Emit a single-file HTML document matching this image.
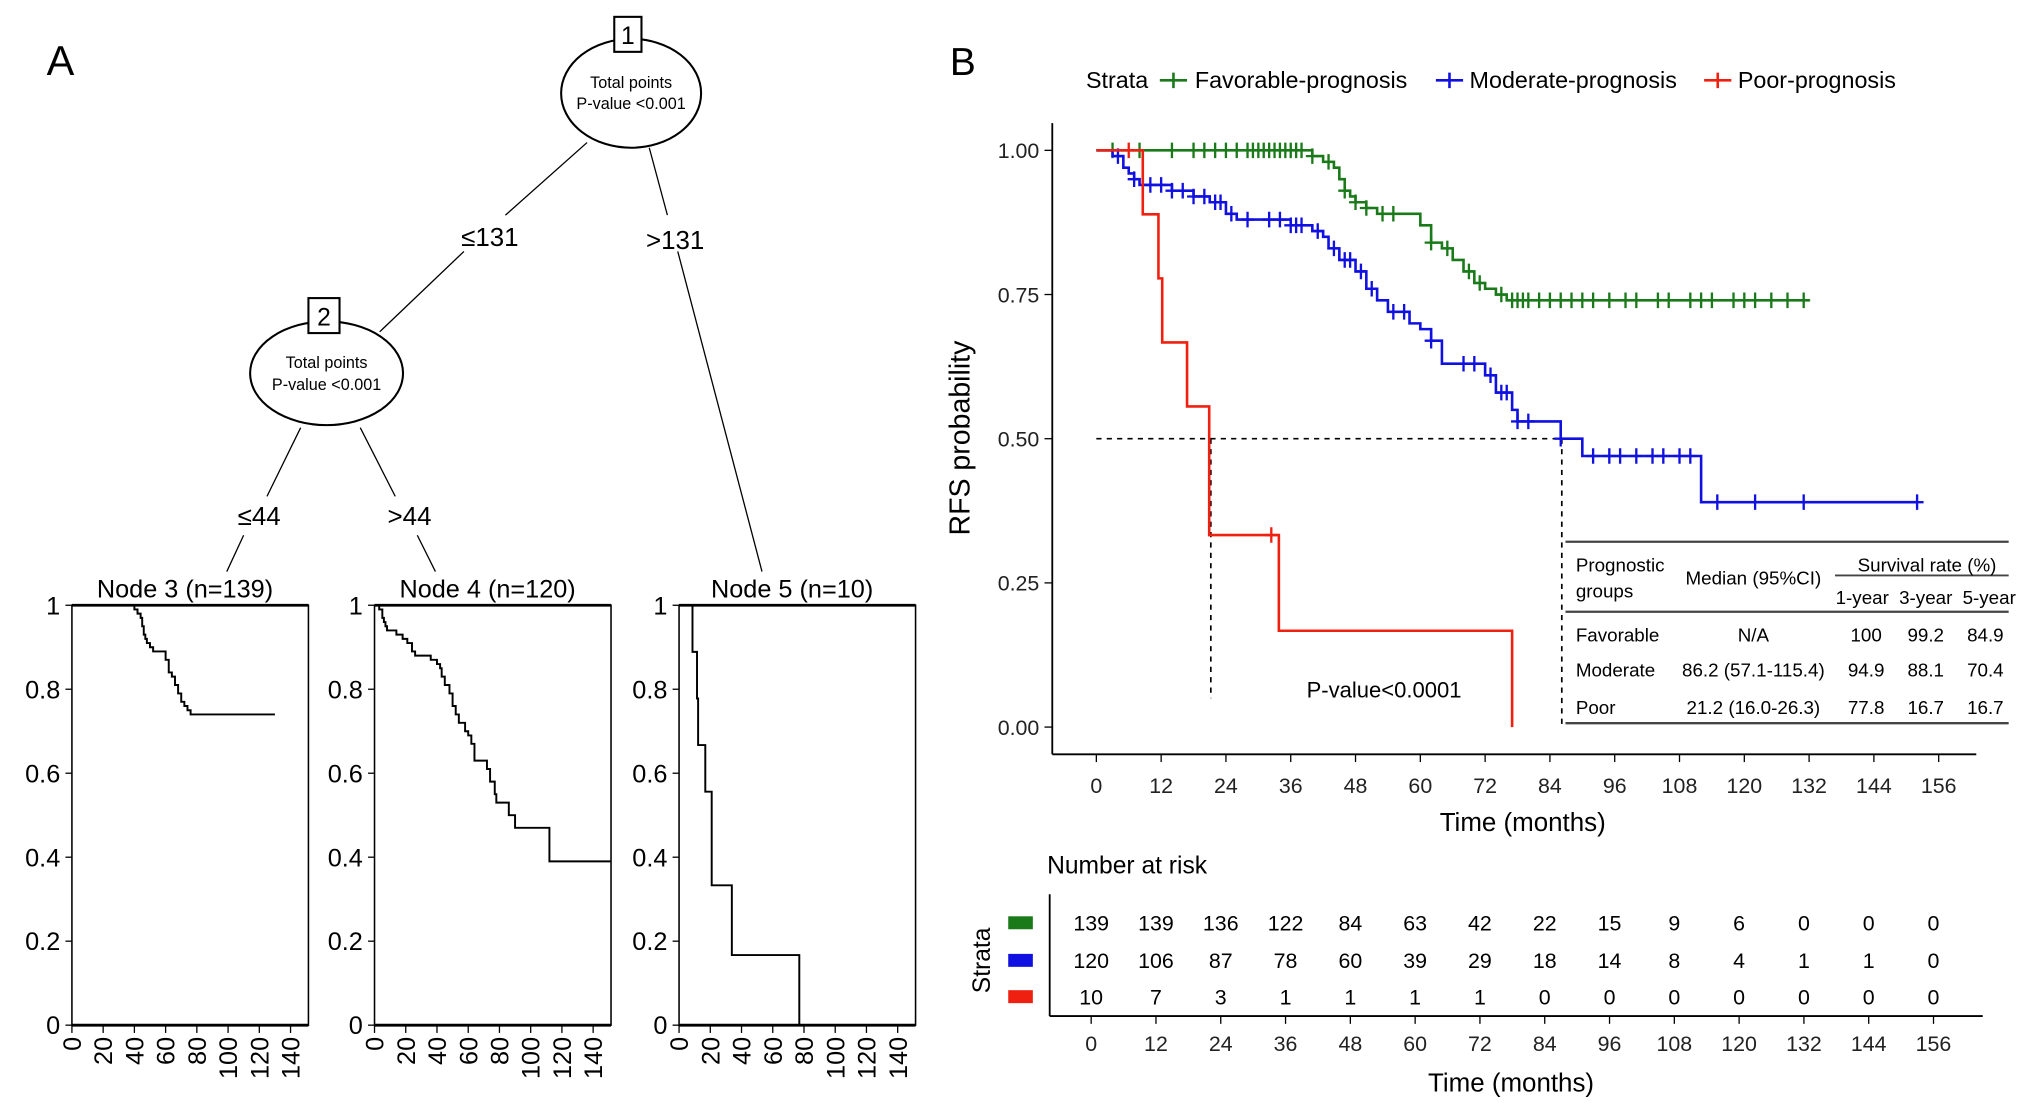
<!DOCTYPE html>
<html><head><meta charset="utf-8"><style>
html,body{margin:0;padding:0;background:#fff;}
svg{display:block;font-family:"Liberation Sans",Arial,sans-serif;}
</style></head><body>
<svg id="fig" width="2032" height="1112" viewBox="0 0 1568 858" preserveAspectRatio="none" xmlns="http://www.w3.org/2000/svg">
<g id="treeG">
<text x="36" y="58" font-size="32">A</text>
<ellipse cx="487" cy="72" rx="54" ry="42" fill="#fff" stroke="#000" stroke-width="1.6"/>
<rect x="474" y="13" width="21" height="27" fill="#fff" stroke="#000" stroke-width="1.6"/>
<text x="484.5" y="34" font-size="19" text-anchor="middle">1</text>
<text x="487" y="68" font-size="12.5" text-anchor="middle">Total points</text>
<text x="487" y="84" font-size="12.5" text-anchor="middle">P-value &lt;0.001</text>
<line x1="453" y1="110" x2="390" y2="166" stroke="#000"/>
<line x1="358" y1="194" x2="293" y2="256" stroke="#000"/>
<text x="378" y="190" font-size="20" text-anchor="middle">≤131</text>
<line x1="501" y1="114" x2="515" y2="166" stroke="#000"/>
<line x1="523" y1="194" x2="588" y2="441" stroke="#000"/>
<text x="521" y="192" font-size="20" text-anchor="middle">&gt;131</text>
<ellipse cx="252" cy="288" rx="59" ry="40" fill="#fff" stroke="#000" stroke-width="1.6"/>
<rect x="238" y="230" width="24" height="27" fill="#fff" stroke="#000" stroke-width="1.6"/>
<text x="250" y="251" font-size="19" text-anchor="middle">2</text>
<text x="252" y="284" font-size="12.5" text-anchor="middle">Total points</text>
<text x="252" y="301" font-size="12.5" text-anchor="middle">P-value &lt;0.001</text>
<line x1="232" y1="330" x2="206" y2="383" stroke="#000"/>
<line x1="188" y1="413" x2="175" y2="441" stroke="#000"/>
<text x="200" y="405" font-size="20" text-anchor="middle">≤44</text>
<line x1="278" y1="330" x2="305" y2="383" stroke="#000"/>
<line x1="322" y1="413" x2="336" y2="441" stroke="#000"/>
<text x="316" y="405" font-size="20" text-anchor="middle">&gt;44</text>
</g>
<g id="nodesG"></g>
<g id="kmG">
<text x="733" y="58" font-size="30">B</text>
<text x="838" y="68" font-size="18">Strata</text>
</g>
<g id="riskG"></g>
</svg>
<script>
const times = [0,12,24,36,48,60,72,84,96,108,120,132,144,156];
const yTicks = [0,0.25,0.5,0.75,1];
const favT = [0,40,42,44,45,46,47,48,50,52,60,62,64,66,68,70,72,74,76];
const favS = [1,0.99,0.98,0.97,0.95,0.93,0.92,0.91,0.90,0.89,0.87,0.84,0.83,0.81,0.79,0.77,0.76,0.75,0.74];
const favEnd = 132;
const modT = [0,3,5,6,7,8,14,18,21,24,26,36,40,42,43,45,48,50,52,54,58,60,62,64,72,74,77,78,86,90,112];
const modS = [1,0.99,0.97,0.96,0.95,0.94,0.93,0.92,0.91,0.89,0.88,0.87,0.86,0.85,0.83,0.81,0.79,0.76,0.74,0.72,0.70,0.69,0.67,0.63,0.61,0.58,0.55,0.53,0.50,0.47,0.39];
const modEnd = 152;
const poorT = [0,8.6,11.5,12.2,16.8,20.9,33.8,77];
const poorS = [1,0.889,0.778,0.667,0.556,0.333,0.167,0];
const poorEnd = 77;
const favC = [3,8,14,18,20,22,24,26,28,29,30,31,32,33,34,35,36,37,38,40,43,46,48,50,53,55,62,65,69,71,75,77,78,79,80,82,84,86,88,90,92,95,98,100,104,106,110,112,114,118,120,122,125,128,131];
const modC = [4,7,10,12,14,16,18,20,22,23,25,28,32,34,36,37,38,41,44,46,47,49,51,55,57,62,68,70,73,75,76,78,80,86,92,95,97,100,103,105,108,110,115,122,131,152];
const poorC = [6,32.4];
const riskFav = [139,139,136,122,84,63,42,22,15,9,6,0,0,0];
const riskMod = [120,106,87,78,60,39,29,18,14,8,4,1,1,0];
const riskPoor = [10,7,3,1,1,1,1,0,0,0,0,0,0,0];
const medMod = 86.2, medPoor = 21.2;
const nodeTicks = [0,20,40,60,80,100,120,140];
const nodeYTicks = [0,0.2,0.4,0.6,0.8,1];
const tblRows = [["Favorable","N/A","100","99.2","84.9"],["Moderate","86.2 (57.1-115.4)","94.9","88.1","70.4"],["Poor","21.2 (16.0-26.3)","77.8","16.7","16.7"]];

const NS="http://www.w3.org/2000/svg";
function mk(parent,tag,attrs,txt){const e=document.createElementNS(NS,tag);for(const k in attrs)e.setAttribute(k,attrs[k]);if(txt!==undefined)e.textContent=txt;parent.appendChild(e);return e;}
function survAt(T,S,t){let s=S[0];for(let i=0;i<T.length;i++){if(T[i]<=t)s=S[i];}return s;}
function stepPath(T,S,end,fx,fy){let d="M"+fx(T[0])+","+fy(S[0]);for(let i=1;i<T.length;i++){d+=" H"+fx(T[i])+" V"+fy(S[i]);}d+=" H"+fx(end);return d;}

const km=document.getElementById('kmG');
const xK=t=>846+t*650/156, yK=s=>561-s*445;
let e=mk(km,'line',{x1:812,y1:95,x2:812,y2:582,stroke:'#000','stroke-width':1.4});

e=mk(km,'line',{x1:812,y1:582,x2:1525,y2:582,stroke:'#000','stroke-width':1.4});

yTicks.forEach(v=>{
  e=mk(km,'line',{x1:806,y1:yK(v),x2:812,y2:yK(v),stroke:'#000'});
  
  e=mk(km,'text',{x:802,y:yK(v)+6,'font-size':16.5,'text-anchor':'end',fill:'#222'},v.toFixed(2));
  
});
times.forEach(t=>{
  e=mk(km,'line',{x1:xK(t),y1:582,x2:xK(t),y2:588,stroke:'#000'});
  
  e=mk(km,'text',{x:xK(t),y:612,'font-size':16.5,'text-anchor':'middle',fill:'#222'},String(t));
  
});
e=mk(km,'text',{x:1175,y:641,'font-size':20,'text-anchor':'middle'},'Time (months)');

e=mk(km,'text',{x:748,y:338,'font-size':22,'text-anchor':'middle',transform:'rotate(-90 748 338)'},'RFS probability');

e=mk(km,'line',{x1:xK(0),y1:yK(0.5),x2:xK(medMod),y2:yK(0.5),stroke:'#000','stroke-dasharray':'4,4','stroke-width':1.3});

e=mk(km,'line',{x1:xK(medPoor),y1:yK(0.5),x2:xK(medPoor),y2:yK(0.05),stroke:'#000','stroke-dasharray':'4,4','stroke-width':1.3});

e=mk(km,'line',{x1:xK(medMod),y1:yK(0.5),x2:xK(medMod),y2:yK(0),stroke:'#000','stroke-dasharray':'4,4','stroke-width':1.3});

const series=[{T:favT,S:favS,end:favEnd,C:favC,col:'#1a7a1a',n:'favorable'},{T:modT,S:modS,end:modEnd,C:modC,col:'#1010e0',n:'moderate'},{T:poorT,S:poorS,end:poorEnd,C:poorC,col:'#f02010',n:'poor'}];
series.forEach(sr=>{
  e=mk(km,'path',{d:stepPath(sr.T,sr.S,sr.end,xK,yK),fill:'none',stroke:sr.col,'stroke-width':2});
  
  sr.C.forEach(c=>{const x=xK(c),y=yK(survAt(sr.T,sr.S,c));
    e=mk(km,'path',{d:`M${x-5},${y}H${x+5}M${x},${y-6}V${y+6}`,stroke:sr.col,'stroke-width':1.8});
    });
});
const legs=[[895,922,'Favorable-prognosis','#1a7a1a'],[1108,1134,'Moderate-prognosis','#1010e0'],[1315,1341,'Poor-prognosis','#f02010']];
legs.forEach(l=>{
  e=mk(km,'path',{d:`M${l[0]},62H${l[0]+21}M${l[0]+10.5},56V68`,stroke:l[3],'stroke-width':2});
  
  e=mk(km,'text',{x:l[1],y:68,'font-size':18},l[2]);
  
});
e=mk(km,'text',{x:1068,y:538,'font-size':17,'text-anchor':'middle'},'P-value<0.0001');

const tb=mk(km,'g',{});

[[418,1208],[472,1208],[558,1208]].forEach(r=>{e=mk(tb,'line',{x1:r[1],y1:r[0],x2:1550,y2:r[0],stroke:'#444','stroke-width':1.8});
  });
e=mk(tb,'line',{x1:1416,y1:444,x2:1550,y2:444,stroke:'#444','stroke-width':1.5});

const fs=14.5;
[['Prognostic',1216,441,'start'],['groups',1216,461,'start'],['Median (95%CI)',1353,451,'middle'],['Survival rate (%)',1487,441,'middle'],['1-year',1437,466,'middle'],['3-year',1486,466,'middle'],['5-year',1535,466,'middle']].forEach(h=>{
  e=mk(tb,'text',{x:h[1],y:h[2],'font-size':fs,'text-anchor':h[3]},h[0]);
  });
const rowY=[495,522,551], colX=[1216,1353,1440,1486,1532];
tblRows.forEach((r,i)=>r.forEach((c,j)=>{
  e=mk(tb,'text',{x:colX[j],y:rowY[i],'font-size':fs,'text-anchor':j==0?'start':'middle'},c);
  }));

const rk=document.getElementById('riskG');
e=mk(rk,'text',{x:808,y:674,'font-size':19},'Number at risk');

e=mk(rk,'line',{x1:810,y1:690,x2:810,y2:784,stroke:'#000','stroke-width':1.4});

e=mk(rk,'line',{x1:810,y1:784,x2:1530,y2:784,stroke:'#000','stroke-width':1.4});

e=mk(rk,'text',{x:764,y:741,'font-size':19,'text-anchor':'middle',transform:'rotate(-90 764 741)'},'Strata');

const riskRows=[[riskFav,712,'#1a7a1a'],[riskMod,741,'#1010e0'],[riskPoor,769,'#f02010']];
riskRows.forEach(r=>{
  e=mk(rk,'rect',{x:778,y:r[1]-5,width:19,height:10,fill:r[2]});
  
  r[0].forEach((v,i)=>{e=mk(rk,'text',{x:xK(times[i])-4,y:r[1]+6,'font-size':16.5,'text-anchor':'middle'},String(v));
    });
});
times.forEach(t=>{
  e=mk(rk,'line',{x1:xK(t)-4,y1:784,x2:xK(t)-4,y2:790,stroke:'#000'});
  
  e=mk(rk,'text',{x:xK(t)-4,y:811,'font-size':16.5,'text-anchor':'middle',fill:'#222'},String(t));
  
});
e=mk(rk,'text',{x:1166,y:842,'font-size':20,'text-anchor':'middle'},'Time (months)');


const nd=document.getElementById('nodesG');
const panels=[{l:55.5,title:'Node 3 (n=139)',sr:series[0],end:130},{l:289,title:'Node 4 (n=120)',sr:series[1],end:152},{l:524,title:'Node 5 (n=10)',sr:series[2],end:77}];
const yN=s=>791-s*324;
panels.forEach((p,pi)=>{
  const xN=t=>p.l+t*24.1/20; const w=182.5;
  const g=mk(nd,'g',{});
  
  e=mk(g,'text',{x:p.l+w/2-4,y:461,'font-size':19.5,'text-anchor':'middle'},p.title);
  
  e=mk(g,'rect',{x:p.l,y:yN(1),width:w,height:324,fill:'none',stroke:'#000','stroke-width':1.2});
  
  e=mk(g,'line',{x1:p.l,y1:yN(1),x2:p.l+w,y2:yN(1),stroke:'#000','stroke-width':2.2});
  
  e=mk(g,'line',{x1:p.l,y1:yN(0),x2:p.l+w,y2:yN(0),stroke:'#000','stroke-width':2.2});
  
  nodeYTicks.forEach(v=>{
    e=mk(g,'line',{x1:p.l-5,y1:yN(v),x2:p.l,y2:yN(v),stroke:'#000'});
    
    e=mk(g,'text',{x:p.l-9,y:yN(v)+7,'font-size':19.5,'text-anchor':'end'},String(v));
    
  });
  nodeTicks.forEach(t=>{
    e=mk(g,'line',{x1:xN(t),y1:yN(0),x2:xN(t),y2:yN(0)+6,stroke:'#000'});
    
    const tx=xN(t)+7, ty=800;
    e=mk(g,'text',{x:tx,y:ty,'font-size':19.5,'text-anchor':'end',transform:`rotate(-90 ${tx} ${ty})`},String(t));
    
  });
  const xc=t=>Math.min(xN(t),p.l+w);
  e=mk(g,'path',{d:stepPath(p.sr.T,p.sr.S,p.end,xc,yN),fill:'none',stroke:'#000','stroke-width':1.5});
  
});
</script>
</body></html>
